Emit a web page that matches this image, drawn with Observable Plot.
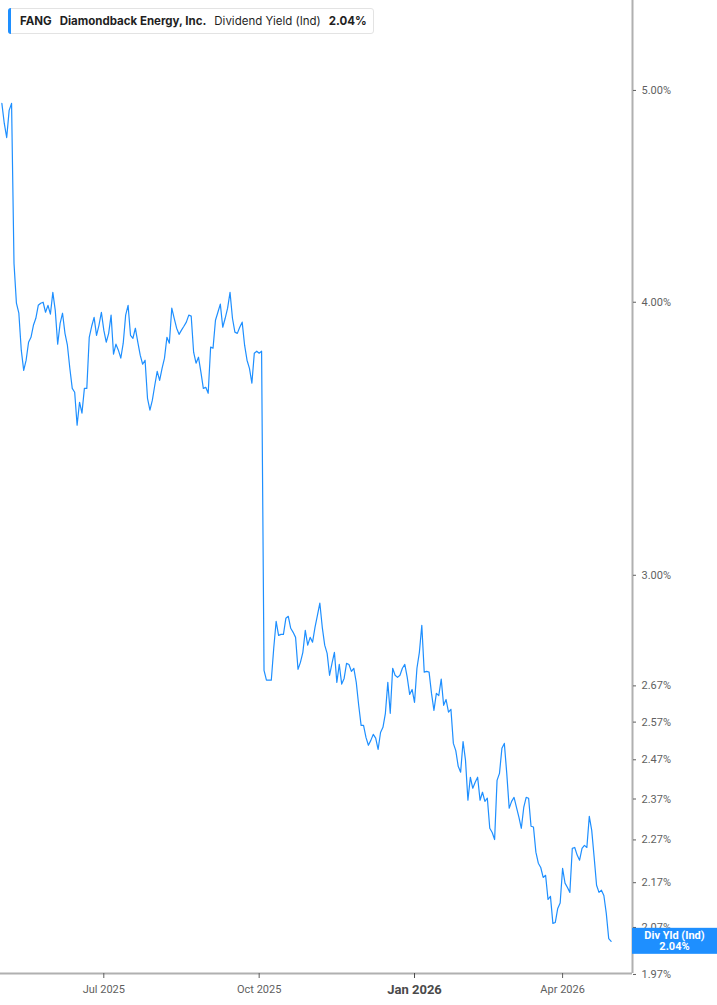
<!DOCTYPE html>
<html><head><meta charset="utf-8">
<script src="https://cdn.jsdelivr.net/npm/d3@7"></script>
<script src="https://cdn.jsdelivr.net/npm/@observablehq/plot@0.6"></script>
<style>
body{margin:0;background:#fff;}
#wrap{position:relative;width:717px;height:1005px;overflow:hidden;}
#legend{position:absolute;left:8px;top:8px;height:24px;padding:0 6px 0 11px;border:1px solid #e3e3e3;border-radius:3px;background:#fff;
  font-family:Inter,"Open Sans",sans-serif;font-size:11.5px;color:#1f1f1f;line-height:24px;white-space:nowrap;}
#legend .bar{position:absolute;left:-1px;top:-1px;bottom:-1px;width:3px;background:#1e8fff;border-radius:3px 0 0 3px;}
#legend b{font-weight:700;}
#legend span{margin-right:8px;}
</style></head><body>
<div id="wrap">
<div id="legend"><div class="bar"></div><span><b>FANG</b></span><span><b>Diamondback Energy, Inc.</b></span><span>Dividend Yield (Ind)</span><b>2.04%</b></div>
</div>
<script>
const startDate = "2025-04-30";
const endDate = "2026-04-30";
const holidays = ["2025-05-26","2025-06-19","2025-07-04","2025-09-01","2025-11-27","2025-12-25","2026-01-01","2026-01-19","2026-02-16","2026-04-03"];
const yieldPct = [
4.932,4.829,4.758,4.896,4.932, 4.168,3.996,3.954,3.803,3.723,
3.763,3.835,3.855,3.904,3.933, 3.987,3.996,4.000,3.958,3.987,
3.950,4.042,3.966,3.827,3.912, 3.954,3.871,3.823,3.731,3.653,
3.638,3.514,3.600,3.559,3.653, 3.653,3.855,3.900,3.937,3.863,
3.904,3.958,3.884,3.835,3.871, 3.946,3.787,3.827,3.803,3.771,
3.831,3.946,3.987,3.863,3.851, 3.892,3.835,3.783,3.747,3.763,
3.615,3.570,3.608,3.665,3.719, 3.684,3.731,3.771,3.855,3.831,
3.975,3.933,3.892,3.867,3.884, 3.900,3.917,3.946,3.942,3.795,
3.751,3.775,3.716,3.653,3.657, 3.634,3.815,3.811,3.925,3.958,
3.992,3.896,3.933,3.975,4.042, 3.933,3.876,3.871,3.896,3.917,
3.823,3.763,3.731,3.673,3.791, 3.799,3.791,3.799,2.714,2.686,
2.686,2.686,2.778,2.858,2.816, 2.819,2.819,2.867,2.873,2.837,
2.825,2.810,2.717,2.737,2.766, 2.831,2.787,2.810,2.796,2.840,
2.876,2.913,2.840,2.787,2.763, 2.700,2.734,2.766,2.680,2.731,
2.675,2.691,2.734,2.731,2.711, 2.720,2.680,2.616,2.561,2.561,
2.529,2.508,2.521,2.537,2.527, 2.497,2.542,2.556,2.594,2.680,
2.594,2.720,2.700,2.694,2.700, 2.720,2.731,2.694,2.646,2.660,
2.624,2.720,2.766,2.846,2.709, 2.711,2.709,2.649,2.602,2.649,
2.643,2.689,2.616,2.632,2.597, 2.605,2.513,2.494,2.453,2.438,
2.518,2.469,2.367,2.425,2.397, 2.412,2.425,2.367,2.387,2.364,
2.372,2.298,2.288,2.271,2.417, 2.435,2.500,2.513,2.435,2.347,
2.364,2.374,2.349,2.325,2.298, 2.349,2.374,2.372,2.303,2.301,
2.241,2.215,2.205,2.182,2.187, 2.132,2.139,2.079,2.081,2.112,
2.124,2.203,2.169,2.159,2.148, 2.250,2.252,2.234,2.222,2.250,
2.257,2.252,2.327,2.293,2.229, 2.164,2.148,2.153,2.141,2.101,
2.046,2.040
];
const yTicks = [5.00,4.00,3.00,2.67,2.57,2.47,2.37,2.27,2.17,2.07,1.97];
const xTickMonths = ["2025-07","2025-10","2026-01","2026-04"];
const xTickLabels = ["Jul 2025","Oct 2025","Jan 2026","Apr 2026"];
const boldMonth = "2026-01";
const seriesLabel = "Div Yld (Ind)";
const yDomain = [1.972, 5.497];
const xPad = [0.44, 260.8];

// trading days
const dates = [];
const end = new Date(endDate + "T00:00:00Z");
for (let d = new Date(startDate + "T00:00:00Z"); d <= end; d.setUTCDate(d.getUTCDate() + 1)) {
  const wd = d.getUTCDay();
  const iso = d.toISOString().slice(0, 10);
  if (wd !== 0 && wd !== 6 && !holidays.includes(iso)) dates.push(iso);
}
const data = yieldPct.map((v, k) => ({i: k + 1, date: dates[k], value: v}));
const tickIdx = xTickMonths.map(m => dates.findIndex(d => d.startsWith(m)) + 1);
const labelOf = new Map(tickIdx.map((t, k) => [t, xTickLabels[k]]));
const boldIdx = dates.findIndex(d => d.startsWith(boldMonth)) + 1;
const normalTicks = tickIdx.filter(t => t !== boldIdx);
const last = data[data.length - 1];

const endLabel = (index, scales, values, dims) => {
  const y = scales.y(last.value);
  const x0 = dims.width - dims.marginRight;
  const g = d3.create("svg:g");
  g.append("rect").attr("x", x0).attr("y", y - 13).attr("width", dims.marginRight).attr("height", 26).attr("fill", "#1e8fff");
  g.append("text").attr("x", x0 + dims.marginRight / 2).attr("y", y - 2).attr("text-anchor", "middle")
    .attr("fill", "#fff").attr("font-weight", "bold").attr("font-size", 11).attr("font-family", "Roboto, sans-serif").text(seriesLabel);
  g.append("text").attr("x", x0 + dims.marginRight / 2).attr("y", y + 9.5).attr("text-anchor", "middle")
    .attr("fill", "#fff").attr("font-weight", "bold").attr("font-size", 11).attr("font-family", "Roboto, sans-serif").text(last.value.toFixed(2) + "%");
  return g.node();
};

const chart = Plot.plot({
  width: 717,
  height: 1005,
  marginLeft: 0,
  marginTop: 0,
  marginRight: 85,
  marginBottom: 32,
  style: {fontFamily: "Roboto, sans-serif", background: "#fff", overflow: "visible"},
  x: {type: "linear", domain: xPad, axis: null},
  y: {type: "log", domain: yDomain, axis: null},
  marks: [
    Plot.line(data, {x: "i", y: "value", stroke: "#1e8fff", strokeWidth: 1.2}),
    Plot.ruleY([yDomain[0]], {stroke: "#b0b0b0", strokeWidth: 2}),
    Plot.ruleX([xPad[1]], {stroke: "#b0b0b0", strokeWidth: 2}),
    Plot.axisY({anchor: "right", ticks: yTicks, tickFormat: d => d.toFixed(2) + "%", tickSize: 3, tickPadding: 6,
      fontSize: 11, color: "#5f5f5f", label: null}),
    Plot.axisX({ticks: normalTicks, tickFormat: t => labelOf.get(t), tickSize: 5, tickPadding: 7,
      fontSize: 11, color: "#5f5f5f", label: null}),
    Plot.axisX({ticks: [boldIdx], tickFormat: t => labelOf.get(t), tickSize: 5, tickPadding: 6,
      fontSize: 13, fontWeight: "bold", color: "#4a4a4a", label: null}),
    endLabel
  ]
});
document.getElementById("wrap").prepend(chart);
</script>
</body></html>
